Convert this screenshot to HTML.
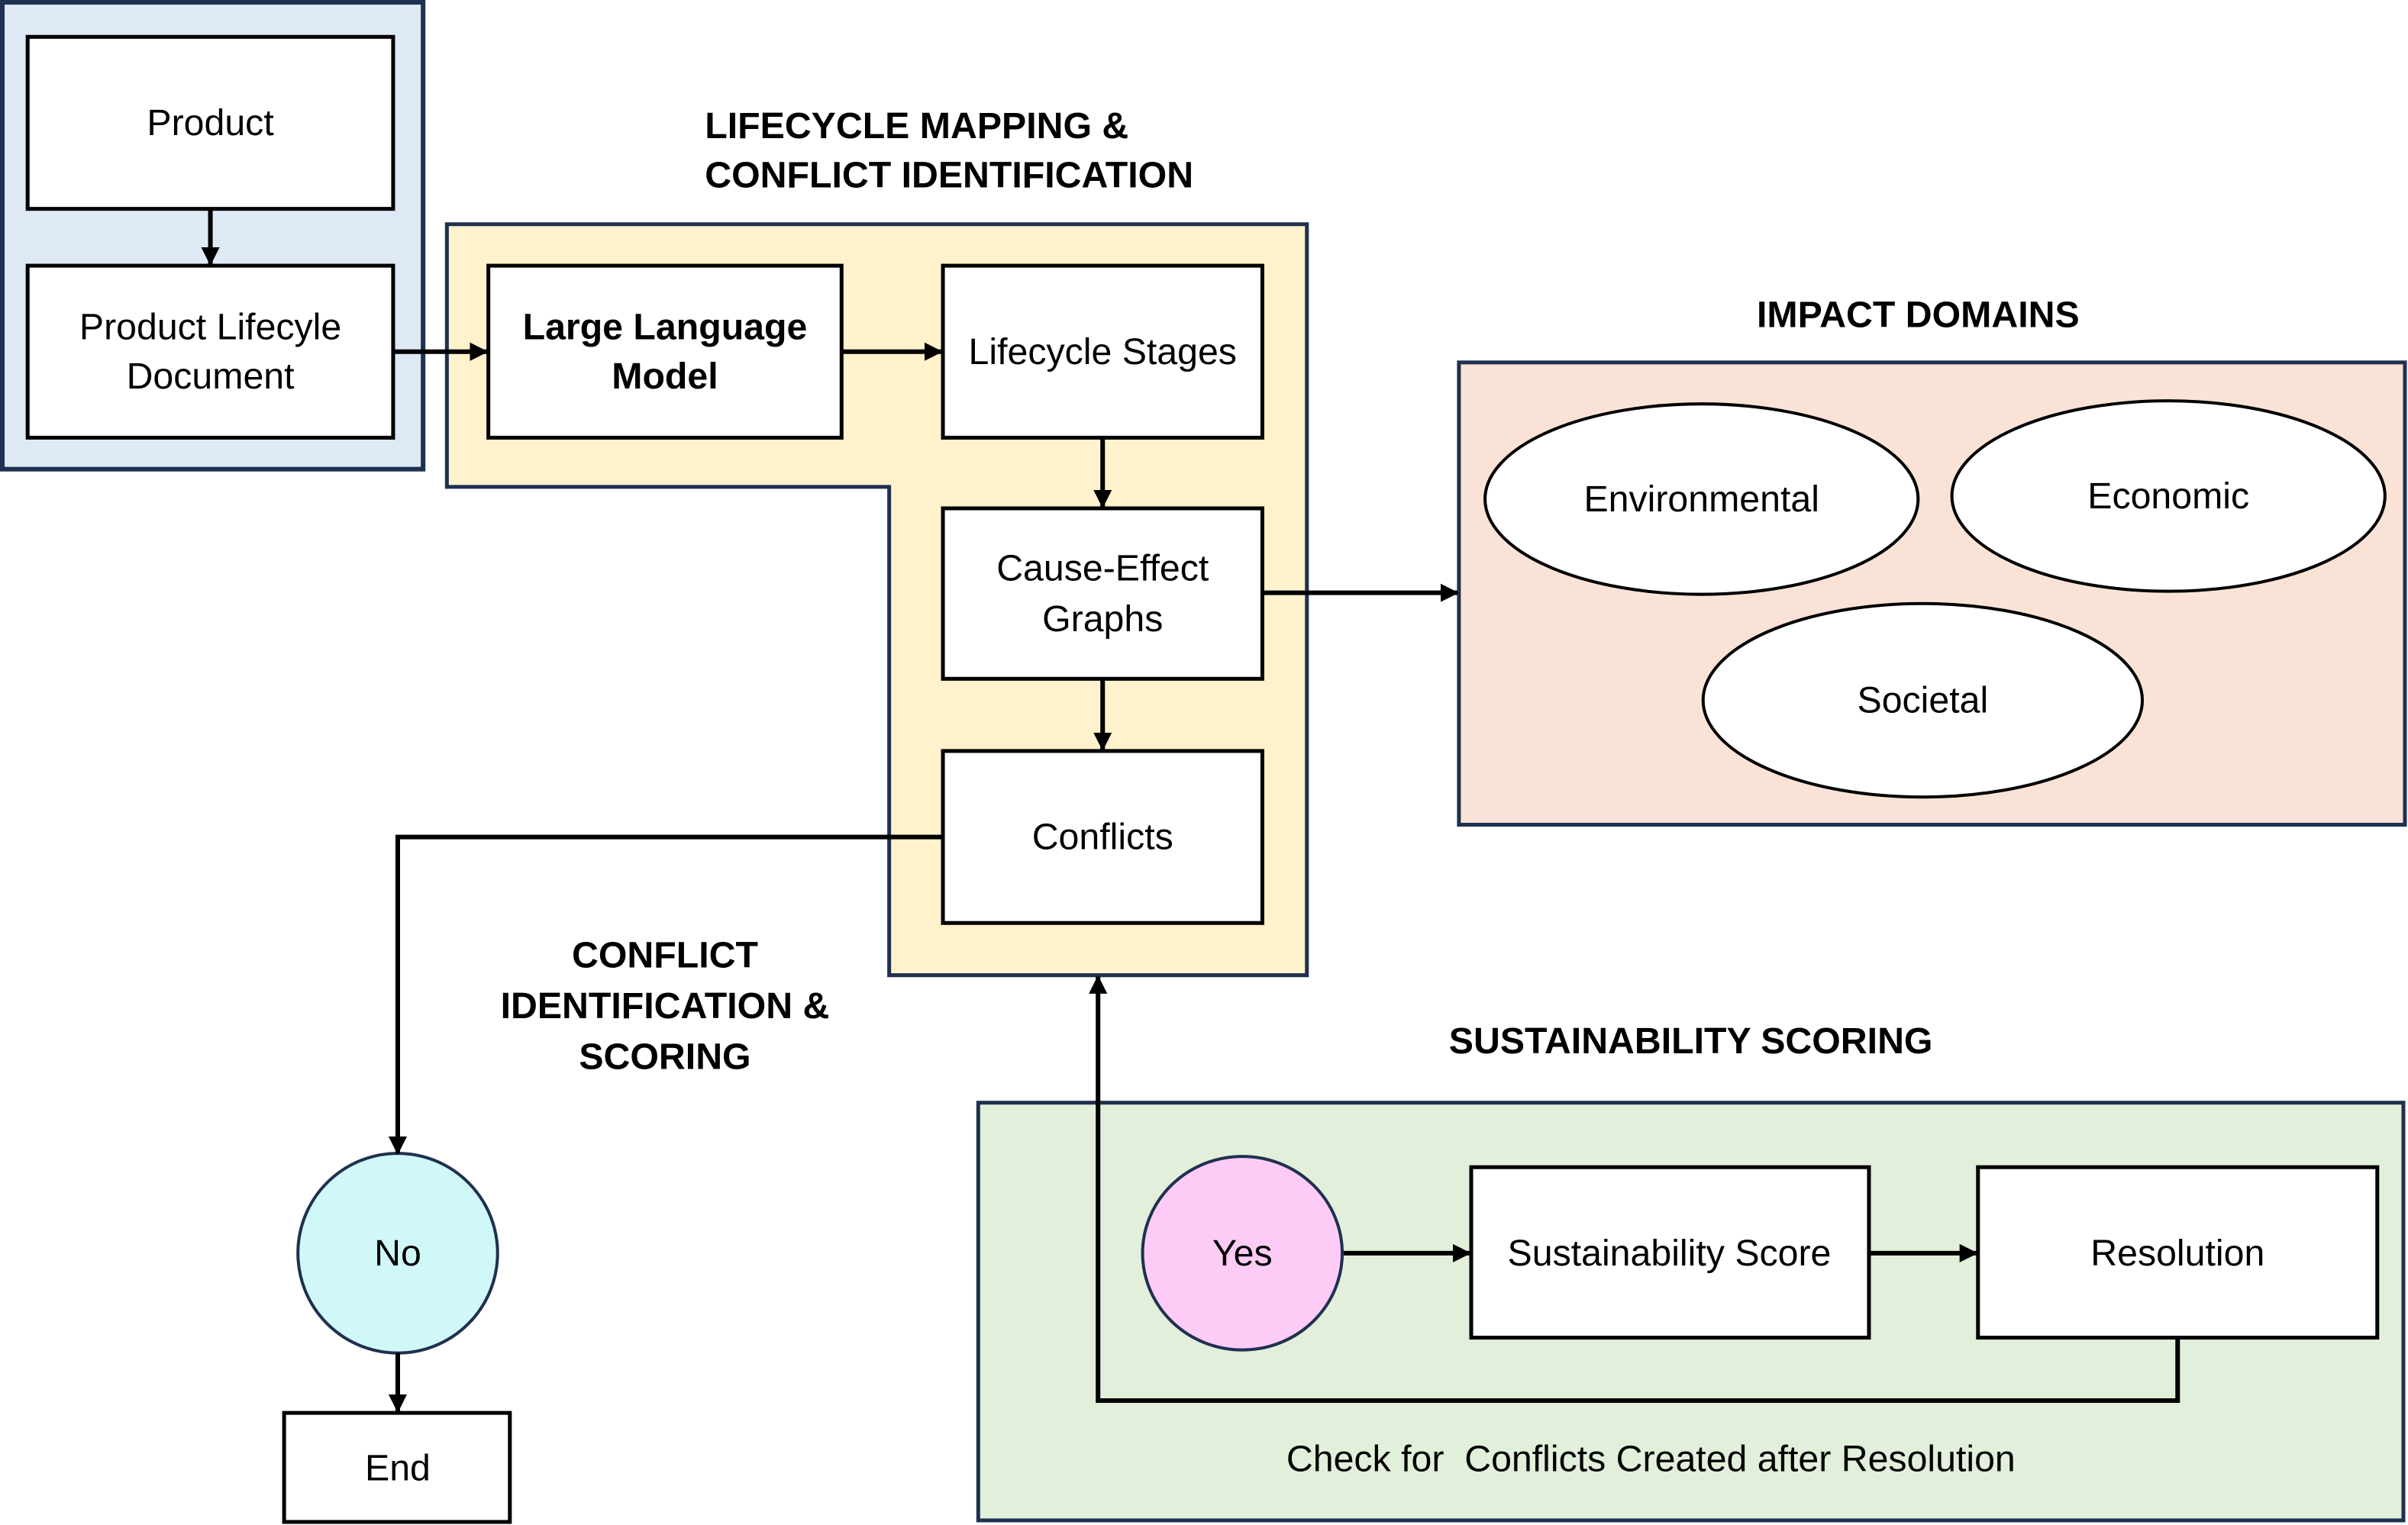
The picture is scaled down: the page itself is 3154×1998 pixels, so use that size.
<!DOCTYPE html>
<html><head><meta charset="utf-8"><style>html,body{margin:0;padding:0;background:#fff}svg{display:block}</style></head><body>
<svg width="3154" height="1998" viewBox="0 0 1568 993" preserveAspectRatio="none" xmlns="http://www.w3.org/2000/svg" font-family="Liberation Sans, sans-serif" font-size="24">
<defs><marker id="a" markerWidth="12" markerHeight="12" refX="11" refY="6" orient="auto" markerUnits="userSpaceOnUse"><path d="M0,0 L12,6 L0,12 z" fill="#000"/></marker></defs>
<rect x="1.5" y="1.5" width="274" height="304" fill="#dee9f5" stroke="#1f3050" stroke-width="3"/>
<path d="M291,146 H851 V635 H579 V317 H291 Z" fill="#fff2cc" stroke="#1f3050" stroke-width="2.5"/>
<rect x="950" y="236" width="616" height="301" fill="#fae3d6" stroke="#1f3050" stroke-width="2.5"/>
<rect x="637" y="718" width="928" height="272" fill="#e2efda" stroke="#1f3050" stroke-width="2.5"/>
<g fill="#fff" stroke="#000" stroke-width="2.5">
<rect x="18" y="24" width="238" height="112"/>
<rect x="18" y="173" width="238" height="112"/>
<rect x="318" y="173" width="230" height="112"/>
<rect x="614" y="173" width="208" height="112"/>
<rect x="614" y="331" width="208" height="111"/>
<rect x="614" y="489" width="208" height="112"/>
<rect x="958" y="760" width="259" height="111"/>
<rect x="1288" y="760" width="260" height="111"/>
<rect x="185" y="920" width="147" height="71"/>
</g>
<g stroke="#000" stroke-width="2">
<ellipse cx="1108" cy="325" rx="141" ry="62" fill="#fff"/>
<ellipse cx="1412" cy="323" rx="141" ry="62" fill="#fff"/>
<ellipse cx="1252" cy="456" rx="143" ry="63" fill="#fff"/>
</g>
<circle cx="259" cy="816" r="65" fill="#d0f8f8" stroke="#1f3050" stroke-width="2"/>
<ellipse cx="809" cy="816" rx="65" ry="63" fill="#fdccf6" stroke="#1f3050" stroke-width="2"/>
<g stroke="#000" stroke-width="3" fill="none" marker-end="url(#a)">
<path d="M137,136 V172"/>
<path d="M256,229 H317"/>
<path d="M548,229 H613"/>
<path d="M718,285 V330"/>
<path d="M718,442 V488"/>
<path d="M822,386 H949"/>
<path d="M614,545 H259 V751"/>
<path d="M259,881 V919"/>
<path d="M875,816 H957"/>
<path d="M1217,816 H1287"/>
<path d="M1418,871 V912 H715 V636"/>
</g>
<g text-anchor="middle" dominant-baseline="central">
<text x="137" y="80">Product</text>
<text x="137" y="213">Product Lifecyle</text>
<text x="137" y="245">Document</text>
<text x="433" y="213" font-weight="bold">Large Language</text>
<text x="433" y="245" font-weight="bold">Model</text>
<text x="718" y="229">Lifecycle Stages</text>
<text x="718" y="370">Cause-Effect</text>
<text x="718" y="403">Graphs</text>
<text x="718" y="545">Conflicts</text>
<text x="1108" y="325">Environmental</text>
<text x="1412" y="323">Economic</text>
<text x="1252" y="456">Societal</text>
<text x="259" y="816">No</text>
<text x="259" y="956">End</text>
<text x="809" y="816">Yes</text>
<text x="1087" y="816">Sustainability Score</text>
<text x="1418" y="816">Resolution</text>
<text x="1075" y="950" xml:space="preserve">Check for  Conflicts Created after Resolution</text>
<g font-weight="bold">
<text x="1249" y="205">IMPACT DOMAINS</text>
<text x="433" y="622">CONFLICT</text>
<text x="433" y="655">IDENTIFICATION &amp;</text>
<text x="433" y="688">SCORING</text>
<text x="1101" y="678">SUSTAINABILITY SCORING</text>
</g>
</g>
<g font-weight="bold" dominant-baseline="central">
<text x="459" y="82">LIFECYCLE MAPPING &amp;</text>
<text x="459" y="114">CONFLICT IDENTIFICATION</text>
</g>
</svg>
</body></html>
